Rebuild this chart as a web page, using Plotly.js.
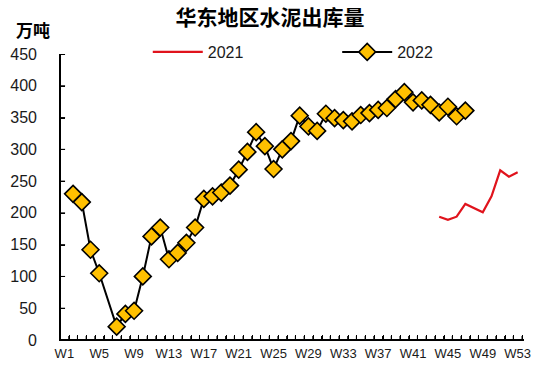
<!DOCTYPE html>
<html>
<head>
<meta charset="utf-8">
<script src="https://cdn.plot.ly/plotly-3.0.1.min.js"></script>
<style>
html,body{margin:0;padding:0;background:#fff;}
#wrap{position:relative;width:533px;height:369px;}
#chart{width:533px;height:369px;}
.axisbox{position:absolute;left:59px;top:54px;width:463px;height:285px;border-left:2px solid #000;border-bottom:2px solid #000;pointer-events:none;}
.xticks{position:absolute;left:60px;top:335px;width:463px;height:4px;pointer-events:none;
  background:repeating-linear-gradient(to right,#000 0,#000 1px,transparent 1px,transparent 8.717px);}
.yticks{position:absolute;left:60px;top:54px;width:5px;height:286px;pointer-events:none;
  background:repeating-linear-gradient(to bottom,#000 0,#000 1px,transparent 1px,transparent 31.78px);}
</style>
</head>
<body>
<div id="wrap">
<div id="chart"></div>
<div class="axisbox"></div>
<div class="xticks"></div>
<div class="yticks"></div>
</div>
<script>
var weeks = ["W1","W2","W3","W4","W5","W6","W7","W8","W9","W10","W11","W12","W13","W14","W15","W16","W17","W18","W19","W20","W21","W22","W23","W24","W25","W26","W27","W28","W29","W30","W31","W32","W33","W34","W35","W36","W37","W38","W39","W40","W41","W42","W43","W44","W45","W46","W47","W48","W49","W50","W51","W52","W53"];
var tickLabels = ["W1","","","","W5","","","","W9","","","","W13","","","","W17","","","","W21","","","","W25","","","","W29","","","","W33","","","","W37","","","","W41","","","","W45","","","","W49","","","","W53"];
var yTickVals = [0,50,100,150,200,250,300,350,400,450];
var values2021 = [null,null,null,null,null,null,null,null,null,null,null,null,null,null,null,null,null,null,null,null,null,null,null,null,null,null,null,null,null,null,null,null,null,null,null,null,null,null,null,null,null,null,null,194,189,194,214,null,201,226,267,257,264];
var values2022 = [null,230,217,142,105,null,21,41,46,100,163,177,127,137,153,177,222,226,232,243,268,296,327,305,269,300,313,353,336,329,356,349,346,344,354,357,362,365,379,390,374,377,370,358,367,352,361,null,null,null,null,null,null];

var sans = '"Liberation Sans", Arial, sans-serif';
var cjk = '"Noto Sans CJK SC", "Noto Sans", sans-serif';

var traces = [
  {x: weeks, y: values2021, name: "2021", type: "scatter", mode: "lines", legend: "legend",
   connectgaps: true, line: {color: "#E0131C", width: 2.2}},
  {x: weeks, y: values2022, name: "2022", type: "scatter", mode: "lines+markers", legend: "legend2",
   connectgaps: true, line: {color: "#000000", width: 2},
   marker: {symbol: "diamond", size: 13, color: "#FFC000", line: {color: "#000000", width: 1.6}}}
];

// axis lines and tick marks drawn as shapes through the axes' scales
var shapes = [
  {type: "line", xref: "paper", yref: "paper", x0: 0, x1: 1, y0: 0, y1: 0, line: {color: "#000", width: 2}, layer: "above"},
  {type: "line", xref: "paper", yref: "paper", x0: 0, x1: 0, y0: 0, y1: 1, line: {color: "#000", width: 2}, layer: "above"}
];
for (var i = 0; i <= weeks.length; i++) {
  shapes.push({type: "line", xref: "x", yref: "paper", x0: i - 0.5, x1: i - 0.5, y0: 0, y1: 0.014,
               line: {color: "#000", width: 1}, layer: "above"});
}
yTickVals.forEach(function(v) {
  shapes.push({type: "line", xref: "paper", yref: "y", x0: 0, x1: 0.011, y0: v, y1: v,
               line: {color: "#000", width: 1}, layer: "above"});
});

var legendCommon = {orientation: "h", xanchor: "left", yanchor: "middle", y: 1.007,
  font: {family: sans, size: 16, color: "#1a1a1a"}, bgcolor: "rgba(0,0,0,0)", itemwidth: 50};

var layout = {
  width: 533, height: 369,
  margin: {l: 60, r: 11, t: 54, b: 29},
  paper_bgcolor: "#ffffff", plot_bgcolor: "#ffffff",
  font: {family: sans, color: "#1a1a1a", size: 16},
  title: {text: "<b>华东地区水泥出库量</b>", font: {family: cjk, size: 21, color: "#000"},
          x: 0.4545, xref: "paper", xanchor: "center", y: 0.951, yanchor: "middle", yref: "container"},
  showlegend: true,
  legend: Object.assign({}, legendCommon, {x: 0.19}),
  legend2: Object.assign({}, legendCommon, {x: 0.60}),
  xaxis: {type: "category", categoryorder: "array", categoryarray: weeks,
          tickmode: "array", tickvals: weeks, ticktext: tickLabels,
          ticks: "", showline: false, showgrid: false, zeroline: false,
          range: [-0.5, 52.5], tickangle: 0, ticklabelstandoff: 4,
          tickfont: {family: sans, size: 13, color: "#1a1a1a"}},
  yaxis: {range: [0, 450], tickmode: "array", tickvals: yTickVals, ticks: "",
          showline: false, showgrid: false, zeroline: false,
          ticklabelstandoff: 22,
          tickfont: {family: sans, size: 16, color: "#1a1a1a"}},
  shapes: shapes,
  annotations: [
    {text: "<b>万吨</b>", xref: "paper", yref: "paper", x: -0.0595, y: 1.087, xanchor: "center", yanchor: "middle",
     showarrow: false, font: {family: cjk, size: 17, color: "#000"}}
  ]
};

Plotly.newPlot("chart", traces, layout, {displayModeBar: false, staticPlot: true});
</script>
</body>
</html>
